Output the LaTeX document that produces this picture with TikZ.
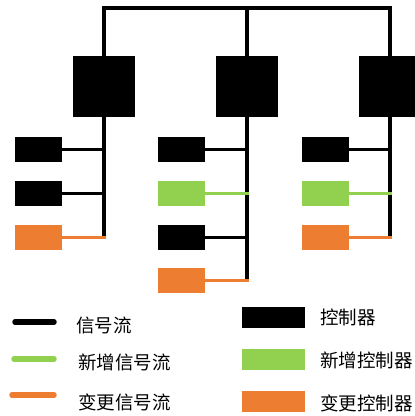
\documentclass[tikz,border=0pt]{standalone}
\usepackage{fontspec}
\newfontfamily\cjk{Noto Sans CJK SC}
\definecolor{sgreen}{HTML}{92D050}
\definecolor{sorange}{HTML}{ED7D31}
\tikzset{
  bigbox/.style={fill=black, minimum width=62pt, minimum height=61pt, inner sep=0pt, draw=none},
  smallbox/.style={fill=#1, minimum width=47pt, minimum height=25pt, inner sep=0pt, draw=none},
  smallbox/.default=black,
  vline/.style={line width=3.8pt, black},
  hline/.style={line width=3pt, #1},
  hline/.default=black,
  legline/.style={line width=5.5pt, line cap=round, #1},
  legbox/.style={fill=#1, minimum width=63pt, minimum height=21pt, inner sep=0pt, draw=none},
  legtext/.style={anchor=west, inner sep=0pt, font=\cjk\fontsize{18.5pt}{20pt}\selectfont},
}
\begin{document}
\begin{tikzpicture}[x=1pt, y=-1pt]
\useasboundingbox (0,0) rectangle (415,416);
% controllers
\node[bigbox] (L) at (104,86.5) {};
\node[bigbox] (M) at (247,86.5) {};
\node[bigbox] (R) at (390,86.5) {};
\coordinate (bus) at (247,8);
\draw[vline] (L.north) -- (L.north |- bus) -- (R.north |- bus) -- (R.north);
\draw[vline] (M.north) -- (bus);
% ends of vertical buses
\coordinate (Lend) at (104,237);
\coordinate (Mend) at (247,281);
\coordinate (Rend) at (390,237);
\draw[vline] (L.south) -- (Lend);
\draw[vline] (M.south) -- (Mend);
\draw[vline] (R.south) -- (Rend);
% left column
\node[smallbox] (a1) at (38.5,149) {};
\node[smallbox] (a2) at (38.5,193) {};
\node[smallbox=sorange] (a3) at (38.5,237) {};
% middle column
\node[smallbox] (b1) at (181.5,149) {};
\node[smallbox=sgreen] (b2) at (181.5,193) {};
\node[smallbox] (b3) at (181.5,237) {};
\node[smallbox=sorange] (b4) at (181.5,280) {};
% right column
\node[smallbox] (c1) at (325,149) {};
\node[smallbox=sgreen] (c2) at (325,193) {};
\node[smallbox=sorange] (c3) at (325,237) {};
% connectors
\draw[hline] (a1.east) -- (a1.east -| L.south);
\draw[hline] (a2.east) -- (a2.east -| L.south);
\draw[hline=sorange] (a3.east) -- ([xshift=2pt]a3.east -| L.south);
\draw[hline] (b1.east) -- (b1.east -| M.south);
\draw[hline=sgreen] (b2.east) -- ([xshift=2pt]b2.east -| M.south);
\draw[hline] (b3.east) -- (b3.east -| M.south);
\draw[hline=sorange] (b4.east) -- ([xshift=2pt]b4.east -| M.south);
\draw[hline] (c1.east) -- (c1.east -| R.south);
\draw[hline=sgreen] (c2.east) -- ([xshift=2pt]c2.east -| R.south);
\draw[hline=sorange] (c3.east) -- ([xshift=2pt]c3.east -| R.south);
% legend lines
\coordinate (l1a) at (15,322); \coordinate (l1b) at (54,322);
\coordinate (l2a) at (14,359); \coordinate (l2b) at (54,359);
\coordinate (l3a) at (12,395); \coordinate (l3b) at (54,395);
\draw[legline=black] (l1a) -- (l1b);
\draw[legline=sgreen] (l2a) -- (l2b);
\draw[legline=sorange] (l3a) -- (l3b);
\node[legtext] (t1) at (76,325) {信号流};
\node[legtext] (t2) at (78,362) {新增信号流};
\node[legtext] (t3) at (78,402) {变更信号流};
% legend boxes
\node[legbox=black] (k1) at (273.5,317.5) {};
\node[legbox=sgreen] (k2) at (273.5,359) {};
\node[legbox=sorange] (k3) at (273.5,401.5) {};
\node[legtext] (u1) at (320,317) {控制器};
\node[legtext] (u2) at (320,360) {新增控制器};
\node[legtext] (u3) at (320,403) {变更控制器};
\end{tikzpicture}
\end{document}
